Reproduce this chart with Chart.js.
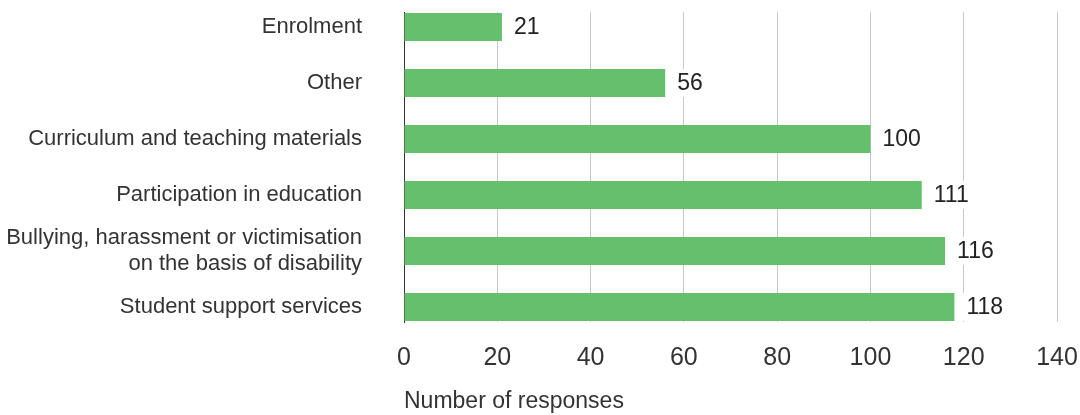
<!DOCTYPE html>
<html>
<head>
<meta charset="utf-8">
<script src="https://cdn.jsdelivr.net/npm/chart.js@4/dist/chart.umd.min.js"></script>
<style>
  html, body { margin: 0; padding: 0; background: #fff; }
  #wrap { width: 1080px; height: 415px; }
</style>
</head>
<body>
<div id="wrap"><canvas id="responsesChart" width="1080" height="415"></canvas></div>
<script>
// Responses by issue category
var categories = [
    ['Enrolment'],
    ['Other'],
    ['Curriculum and teaching materials'],
    ['Participation in education'],
    ['Bullying, harassment or victimisation', 'on the basis of disability'],
    ['Student support services']
];
var responses = [21, 56, 100, 111, 116, 118];
var xTicks = [0, 20, 40, 60, 80, 100, 120, 140];

var barData = responses.map(function(v, i) { return { x: v, y: i }; });
var FONT = '"Liberation Sans", Arial, sans-serif';

// write the number just right of each bar, on a white patch
var valueLabels = {
    id: 'valueLabels',
    afterDatasetsDraw: function(chart) {
        var ctx = chart.ctx;
        var meta = chart.getDatasetMeta(0);
        ctx.save();
        ctx.font = '23px ' + FONT;
        ctx.textBaseline = 'middle';
        ctx.textAlign = 'left';
        meta.data.forEach(function(bar, i) {
            var txt = String(responses[i]);
            var x = bar.x + 12;
            var w = ctx.measureText(txt).width;
            ctx.fillStyle = '#fff';
            ctx.fillRect(x - 4, bar.y - 14, w + 8, 28);
            ctx.fillStyle = '#222';
            ctx.fillText(txt, x, bar.y + 1);
        });
        ctx.restore();
    }
};

var ctx = document.getElementById('responsesChart').getContext('2d');
var chart = new Chart(ctx, {
    type: 'bar',
    data: {
        datasets: [{
            data: barData,
            backgroundColor: '#66bf6d',
            borderWidth: 0,
            categoryPercentage: 1,
            barPercentage: 0.5
        }]
    },
    options: {
        indexAxis: 'y',
        responsive: false,
        animation: false,
        layout: { padding: { top: 12, right: 23, bottom: 0, left: 0 } },
        plugins: {
            legend: { display: false },
            tooltip: { enabled: false }
        },
        scales: {
            x: {
                min: 0,
                max: 140,
                afterBuildTicks: function(scale) {
                    scale.ticks = xTicks.map(function(v) { return { value: v }; });
                },
                afterFit: function(scale) {
                    scale.height = 93;
                    scale.paddingLeft = 0;
                    scale.paddingRight = 0;
                },
                grid: {
                    color: function(c) { return c.tick && c.tick.value === 0 ? '#333' : '#c8c8c8'; },
                    lineWidth: 1,
                    drawTicks: false
                },
                border: { display: false },
                ticks: {
                    padding: 21,
                    maxRotation: 0,
                    color: '#333',
                    font: { family: FONT, size: 25 }
                },
                title: {
                    display: true,
                    text: 'Number of responses',
                    align: 'start',
                    color: '#333',
                    padding: { top: 17, bottom: 0 },
                    font: { family: FONT, size: 23 }
                }
            },
            y: {
                type: 'linear',
                reverse: true,
                offset: false,
                min: -0.27,
                max: 5.27,
                afterBuildTicks: function(scale) {
                    scale.ticks = categories.map(function(c, i) { return { value: i }; });
                },
                afterFit: function(scale) {
                    scale.width = 404;
                    scale.paddingTop = 0;
                    scale.paddingBottom = 0;
                },
                grid: { display: false, drawTicks: false },
                border: { display: true, color: '#333', width: 1 },
                ticks: {
                    autoSkip: false,
                    padding: 42,
                    color: '#333',
                    font: { family: FONT, size: 22, lineHeight: 1.2 },
                    callback: function(v) { return categories[v]; }
                }
            }
        }
    },
    plugins: [valueLabels]
});
</script>
</body>
</html>
